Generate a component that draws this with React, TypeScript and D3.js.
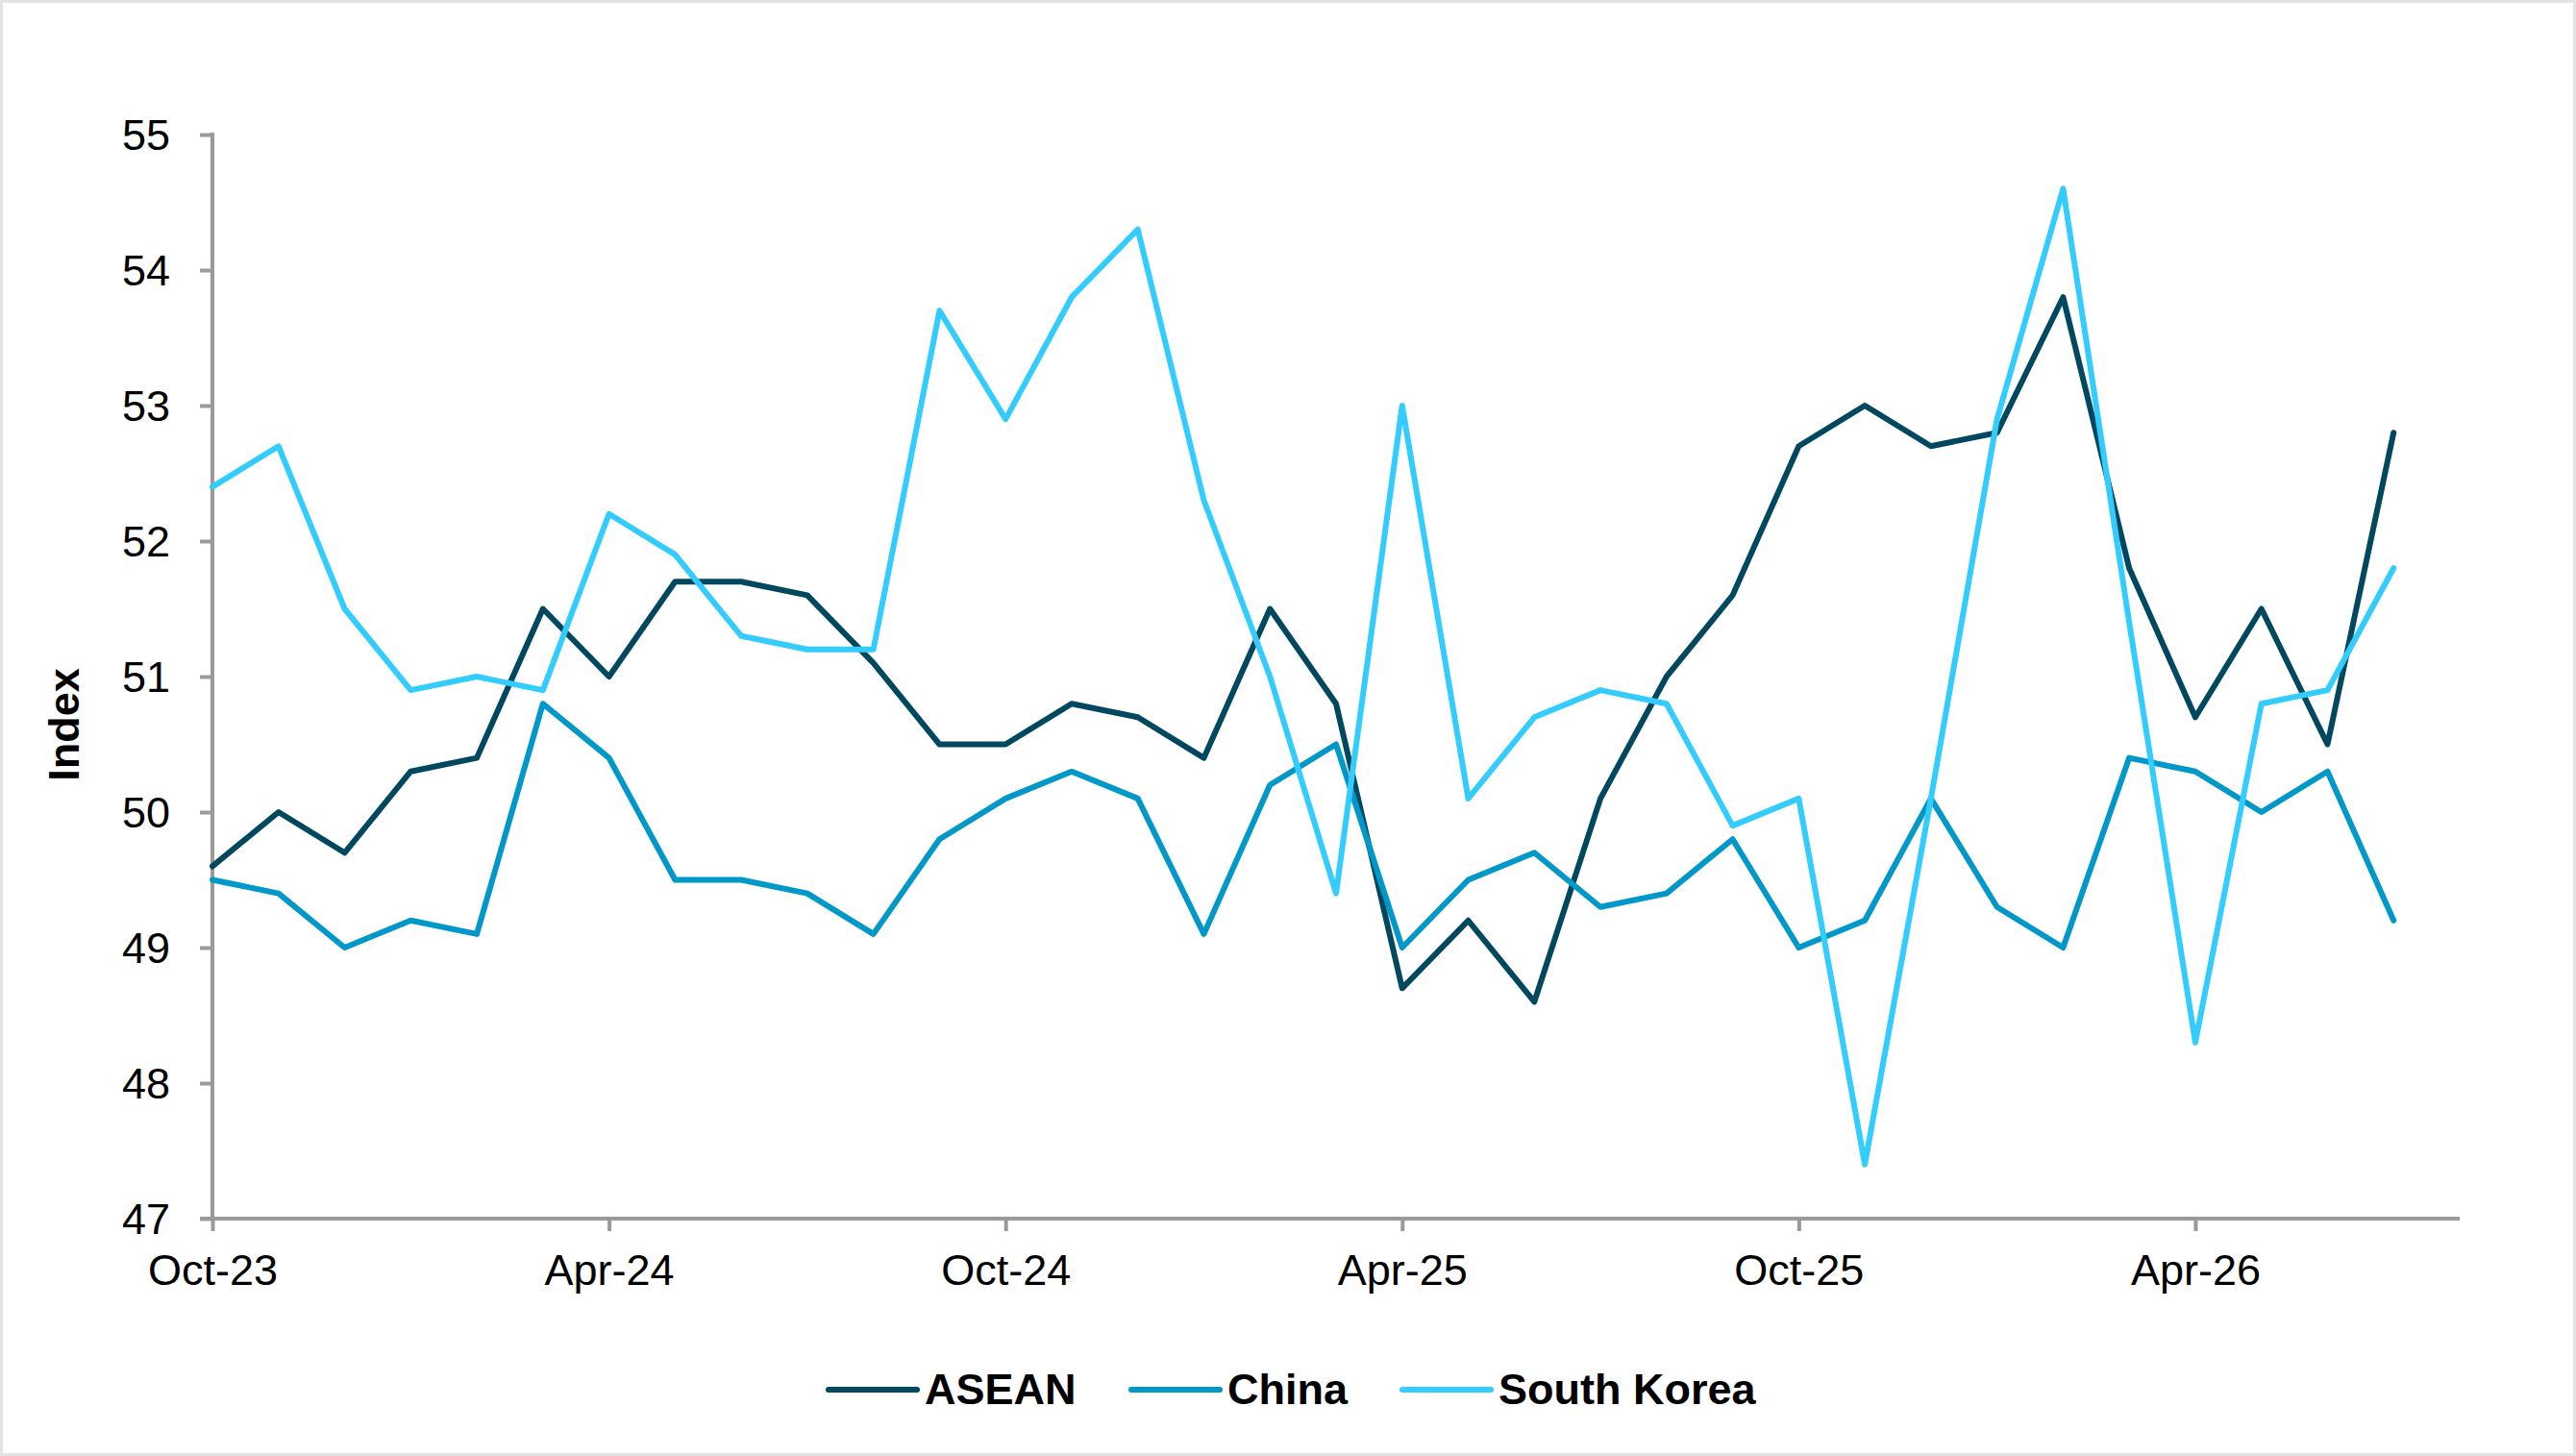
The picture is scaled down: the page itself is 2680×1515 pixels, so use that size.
import { useEffect, useRef } from 'react';
import * as d3 from 'd3';

// Monthly index readings, Oct-23 .. Jul-26
const months = [
  'Oct-23', 'Nov-23', 'Dec-23', 'Jan-24', 'Feb-24', 'Mar-24', 'Apr-24', 'May-24', 'Jun-24',
  'Jul-24', 'Aug-24', 'Sep-24', 'Oct-24', 'Nov-24', 'Dec-24', 'Jan-25', 'Feb-25', 'Mar-25',
  'Apr-25', 'May-25', 'Jun-25', 'Jul-25', 'Aug-25', 'Sep-25', 'Oct-25', 'Nov-25', 'Dec-25',
  'Jan-26', 'Feb-26', 'Mar-26', 'Apr-26', 'May-26', 'Jun-26', 'Jul-26',
];
const asean = [
  49.6, 50.0, 49.7, 50.3, 50.4, 51.5, 51.0, 51.7, 51.7, 51.6, 51.1, 50.5, 50.5, 50.8, 50.7, 50.4, 51.5,
  50.8, 48.7, 49.2, 48.6, 50.1, 51.0, 51.6, 52.7, 53.0, 52.7, 52.8, 53.8, 51.8, 50.7, 51.5, 50.5, 52.8,
];
const china = [
  49.5, 49.4, 49.0, 49.2, 49.1, 50.8, 50.4, 49.5, 49.5, 49.4, 49.1, 49.8, 50.1, 50.3, 50.1, 49.1, 50.2,
  50.5, 49.0, 49.5, 49.7, 49.3, 49.4, 49.8, 49.0, 49.2, 50.1, 49.3, 49.0, 50.4, 50.3, 50.0, 50.3, 49.2,
];
const southKorea = [
  52.4, 52.7, 51.5, 50.9, 51.0, 50.9, 52.2, 51.9, 51.3, 51.2, 51.2, 53.7, 52.9, 53.8, 54.3, 52.3, 51.0,
  49.4, 53.0, 50.1, 50.7, 50.9, 50.8, 49.9, 50.1, 47.4, 50.1, 52.9, 54.6, 51.4, 48.3, 50.8, 50.9, 51.8,
];
const xTickLabels = ['Oct-23', 'Apr-24', 'Oct-24', 'Apr-25', 'Oct-25', 'Apr-26'];
const yTicks = [47, 48, 49, 50, 51, 52, 53, 54, 55];

const seriesNames = ['ASEAN', 'China', 'South Korea'];
const seriesValues = [asean, china, southKorea];
const seriesColors = ['#00485F', '#0098C8', '#33CCFF'];

const W = 2680;
const H = 1515;
const FONT = 'Arial, "Liberation Sans", Helvetica, sans-serif';
const AXIS = '#9a9a9a';

export default function App() {
  const svgRef = useRef<SVGSVGElement>(null);

  useEffect(() => {
    if (!svgRef.current) return;
    const svg = d3.select(svgRef.current);
    svg.selectAll('*').remove();

    // frame
    svg.append('rect')
      .attr('x', 1.5).attr('y', 1.5)
      .attr('width', W - 3).attr('height', H - 3)
      .attr('fill', '#ffffff')
      .attr('stroke', '#e3e3e3')
      .attr('stroke-width', 3);

    const left = 221;
    const right = 2559;
    const top = 140;
    const bottom = 1268;

    // month index scale; axis runs one month past the last point
    const x = d3.scaleLinear().domain([0, months.length]).range([left, right]);
    const y = d3.scaleLinear().domain([47, 55]).range([bottom, top]);

    // y axis
    const yAxis = svg.append('g')
      .attr('transform', `translate(${left},0)`)
      .call(d3.axisLeft(y).tickValues(yTicks).tickSize(13).tickPadding(31).tickFormat(d3.format('d')));
    yAxis.select('.domain').remove();
    yAxis.selectAll('.tick line').attr('stroke', AXIS).attr('stroke-width', 4);
    yAxis.selectAll('.tick text')
      .attr('fill', '#000')
      .attr('font-family', FONT)
      .attr('font-size', 45)
      .attr('dy', '0.35em');
    svg.append('line')
      .attr('x1', left).attr('x2', left)
      .attr('y1', top - 2).attr('y2', bottom)
      .attr('stroke', AXIS).attr('stroke-width', 4);

    // x axis
    const tickIdx = xTickLabels.map(l => months.indexOf(l));
    const xAxis = svg.append('g')
      .attr('transform', `translate(0,${bottom})`)
      .call(d3.axisBottom(x).tickValues(tickIdx).tickSize(13).tickPadding(24)
        .tickFormat((d) => months[d as number]));
    xAxis.select('.domain').remove();
    xAxis.selectAll('.tick line').attr('stroke', AXIS).attr('stroke-width', 4);
    xAxis.selectAll('.tick text')
      .attr('fill', '#000')
      .attr('font-family', FONT)
      .attr('font-size', 45);
    svg.append('line')
      .attr('x1', left - 13).attr('x2', right)
      .attr('y1', bottom).attr('y2', bottom)
      .attr('stroke', AXIS).attr('stroke-width', 4);

    // axis title
    svg.append('text')
      .attr('transform', `translate(82,${(top + bottom) / 2 + 50}) rotate(-90)`)
      .attr('text-anchor', 'middle')
      .attr('font-family', FONT)
      .attr('font-size', 45)
      .attr('font-weight', 700)
      .text('Index');

    // lines
    const line = d3.line<number>()
      .x((_, i) => x(i))
      .y(d => y(d));

    seriesValues.forEach((vals, s) => {
      svg.append('path')
        .datum(vals)
        .attr('d', line)
        .attr('fill', 'none')
        .attr('stroke', seriesColors[s])
        .attr('stroke-width', 6)
        .attr('stroke-linejoin', 'round')
        .attr('stroke-linecap', 'round');
    });

    // legend
    const legendX = [862, 1177, 1459];
    const legend = svg.append('g');
    seriesNames.forEach((name, s) => {
      legend.append('line')
        .attr('x1', legendX[s]).attr('x2', legendX[s] + 92)
        .attr('y1', 1446).attr('y2', 1446)
        .attr('stroke', seriesColors[s])
        .attr('stroke-width', 6)
        .attr('stroke-linecap', 'round');
      legend.append('text')
        .attr('x', legendX[s] + 100)
        .attr('y', 1461)
        .attr('font-family', FONT)
        .attr('font-size', 45)
        .attr('font-weight', 700)
        .attr('fill', '#000')
        .text(name);
    });
  }, []);

  return (
    <div style={{ position: 'fixed', left: 0, top: 0, width: W, height: H, background: '#fff' }}>
      <svg ref={svgRef} width={W} height={H} />
    </div>
  );
}
